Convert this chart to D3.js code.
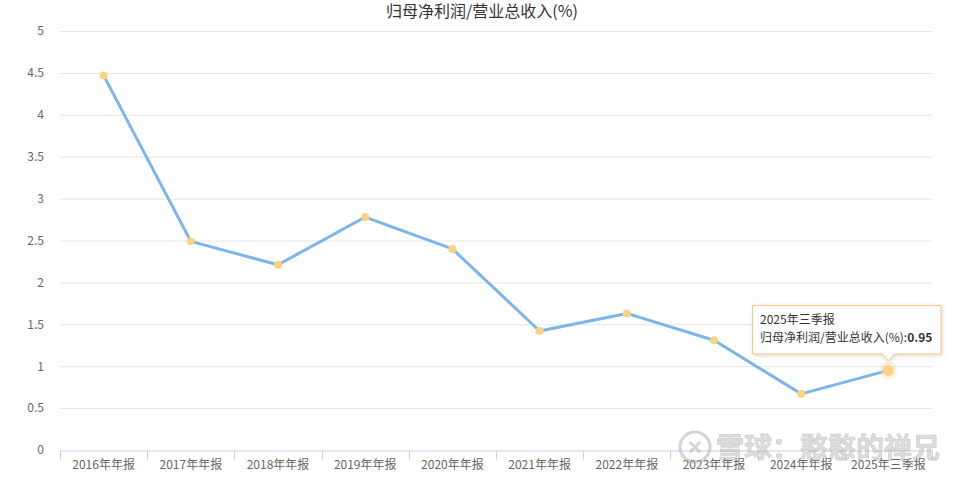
<!DOCTYPE html>
<html>
<head>
<meta charset="utf-8">
<script src="https://cdn.jsdelivr.net/npm/d3@7/dist/d3.min.js"></script>
<style>
  body { margin: 0; background: #fff; }
  svg { font-family: "Noto Sans CJK SC", "Noto Sans", sans-serif; }
</style>
</head>
<body>
<svg id="chart" width="964" height="480"></svg>
<script>
var categories = ['2016年年报', '2017年年报', '2018年年报', '2019年年报', '2020年年报',
                  '2021年年报', '2022年年报', '2023年年报', '2024年年报', '2025年三季报'];
var values = [4.47, 2.49, 2.21, 2.78, 2.40, 1.42, 1.63, 1.31, 0.67, 0.95];
var yTicks = [0, 0.5, 1, 1.5, 2, 2.5, 3, 3.5, 4, 4.5, 5];
var seriesName = '归母净利润/营业总收入(%)';

var svg = d3.select('#chart');
var margin = {top: 31, right: 32, bottom: 30, left: 60};
var width = 964 - margin.left - margin.right,
    height = 480 - margin.top - margin.bottom;

var g = svg.append('g')
  .attr('transform', 'translate(' + margin.left + ',' + margin.top + ')');

var x = d3.scaleBand().domain(categories).range([0, width]);
var y = d3.scaleLinear().domain([0, 5]).range([height, 0]);

// title
svg.append('text')
  .attr('x', 482).attr('y', 17)
  .attr('text-anchor', 'middle')
  .style('font-size', '16px')
  .style('fill', '#333')
  .text(seriesName);

// grid
g.selectAll('.grid')
  .data(yTicks.slice(1))
  .enter().append('line')
  .attr('x1', 0).attr('x2', width)
  .attr('y1', function(d) { return y(d) + 0.5; })
  .attr('y2', function(d) { return y(d) + 0.5; })
  .style('stroke', '#e6e6e6');

// y axis labels
g.append('g')
  .call(d3.axisLeft(y).tickValues(yTicks).tickFormat(d3.format('~g')).tickSize(0).tickPadding(16))
  .call(function(a) { a.select('.domain').remove(); })
  .selectAll('text')
  .style('font-size', '12px')
  .style('fill', '#666')
  .style('font-family', '"Noto Sans CJK SC", sans-serif');

// x axis
var xAxis = g.append('g')
  .attr('transform', 'translate(0,' + (height + 0.5) + ')')
  .call(d3.axisBottom(x).tickSize(0).tickPadding(10));
xAxis.select('.domain').style('stroke', '#c6d1e3');
xAxis.selectAll('text')
  .style('font-size', '12px')
  .style('fill', '#666')
  .style('font-family', '"Noto Sans CJK SC", sans-serif');

// tick marks at band boundaries
var bounds = categories.map(function(c) { return x(c); }).concat([width]);
xAxis.selectAll('.bnd')
  .data(bounds)
  .enter().append('line')
  .attr('x1', function(d) { return Math.round(d) + 0.5; })
  .attr('x2', function(d) { return Math.round(d) + 0.5; })
  .attr('y1', 0).attr('y2', 9)
  .style('stroke', '#c6d1e3');

var cx = function(d, i) { return x(categories[i]) + x.bandwidth() / 2; };

// line
var line = d3.line()
  .x(function(d, i) { return cx(d, i); })
  .y(function(d) { return y(d); });

g.append('path')
  .datum(values)
  .attr('d', line)
  .style('fill', 'none')
  .style('stroke', '#7cb5ec')
  .style('stroke-width', 3)
  .style('stroke-linejoin', 'round');

// points
g.selectAll('.pt')
  .data(values)
  .enter().append('circle')
  .attr('cx', cx)
  .attr('cy', function(d) { return y(d); })
  .attr('r', 4)
  .style('fill', '#fcd283');

// hovered point
var last = values.length - 1;
var hx = cx(values[last], last), hy = y(values[last]);
g.append('circle').attr('cx', hx).attr('cy', hy).attr('r', 9)
  .style('fill', '#fcd283').style('opacity', 0.3);
g.append('circle').attr('cx', hx).attr('cy', hy).attr('r', 5.5)
  .style('fill', '#fcd283');

// watermark
var wm = svg.append('g').style('opacity', 0.5);
wm.append('circle').attr('cx', 695).attr('cy', 447).attr('r', 15)
  .style('fill', 'none').style('stroke', '#aaa').style('stroke-width', 3);
wm.append('text').attr('x', 695).attr('y', 454).attr('text-anchor', 'middle')
  .style('font-size', '19px').style('font-weight', 'bold').style('fill', '#aaa').text('✕');
wm.append('text').attr('x', 716).attr('y', 458)
  .style('font-size', '28px').style('font-weight', 'bold')
  .style('fill', '#bbb').style('stroke', '#999').style('stroke-width', 0.6)
  .text('雪球：憨憨的禅兄');

// tooltip
var tip = svg.append('g').attr('transform', 'translate(752,305)');
var tw = 189, th = 49;
var px = margin.left + hx - 752;
tip.append('path')
  .attr('d', 'M0.5,0.5 H' + tw + ' V' + th + ' H' + (px + 6) + ' L' + px + ',' + (th + 7) +
        ' L' + (px - 6) + ',' + th + ' H0.5 Z')
  .style('fill', '#fff')
  .style('stroke', '#f7c97a')
  .style('stroke-width', 1)
  .style('filter', 'drop-shadow(1px 1px 2px rgba(0,0,0,0.15))');
tip.append('text').attr('x', 8).attr('y', 19)
  .style('font-size', '12px').style('fill', '#333').text('2025年三季报');
var t2 = tip.append('text').attr('x', 8).attr('y', 37)
  .style('font-size', '12px').style('fill', '#333');
t2.append('tspan').text(seriesName + ':');
t2.append('tspan').style('font-weight', 'bold').text(values[last]);
</script>
</body>
</html>
